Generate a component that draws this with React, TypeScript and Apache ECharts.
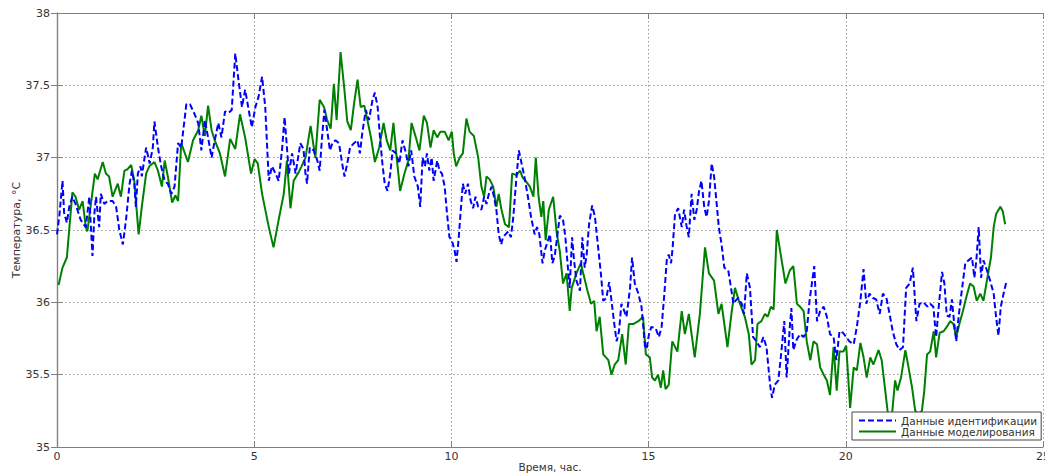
import React, { useEffect, useRef } from "react";
import * as echarts from "echarts";

// Time (hours) / temperature (°C) pairs
const identification: [number, number][] = [
  [0.0, 36.47], [0.06, 36.6], [0.14, 36.84], [0.18, 36.62], [0.25, 36.55], [0.31, 36.66], [0.39, 36.73],
  [0.47, 36.68], [0.6, 36.57], [0.73, 36.52], [0.82, 36.73], [0.86, 36.52], [0.9, 36.32], [0.95, 36.62],
  [0.99, 36.73], [1.03, 36.62], [1.07, 36.52], [1.11, 36.75], [1.2, 36.68], [1.28, 36.7], [1.41, 36.7],
  [1.5, 36.66], [1.58, 36.5], [1.67, 36.4], [1.75, 36.57], [1.84, 36.82], [1.9, 36.91], [1.96, 36.82],
  [2.0, 36.66], [2.05, 36.89], [2.12, 36.94], [2.15, 36.87], [2.22, 37.0], [2.26, 37.07], [2.35, 36.96],
  [2.43, 37.07], [2.47, 37.25], [2.56, 37.07], [2.64, 36.94], [2.73, 36.84], [2.81, 36.82], [2.9, 36.75],
  [2.98, 36.8], [3.07, 37.1], [3.15, 37.07], [3.28, 37.37], [3.37, 37.37], [3.49, 37.3], [3.58, 37.24],
  [3.66, 37.05], [3.75, 37.26], [3.83, 37.14], [3.92, 37.0], [4.0, 37.12], [4.09, 37.24], [4.17, 37.14],
  [4.26, 37.32], [4.35, 37.31], [4.43, 37.33], [4.52, 37.72], [4.6, 37.54], [4.69, 37.35], [4.77, 37.47],
  [4.86, 37.33], [4.94, 37.21], [5.03, 37.35], [5.11, 37.42], [5.2, 37.56], [5.28, 37.35], [5.37, 36.84],
  [5.45, 36.94], [5.54, 36.89], [5.62, 36.84], [5.71, 37.07], [5.77, 37.28], [5.83, 37.07], [5.88, 36.89],
  [5.96, 37.03], [6.05, 36.89], [6.17, 37.1], [6.25, 37.06], [6.3, 36.89], [6.34, 36.82], [6.41, 37.07],
  [6.51, 37.05], [6.6, 36.98], [6.66, 36.91], [6.72, 37.14], [6.78, 37.33], [6.85, 37.19], [6.92, 37.05],
  [6.98, 37.1], [7.06, 37.12], [7.15, 37.1], [7.23, 36.96], [7.29, 36.87], [7.36, 36.96], [7.43, 37.07],
  [7.53, 37.1], [7.62, 37.12], [7.68, 37.03], [7.74, 37.17], [7.83, 37.33], [7.91, 37.26], [8.0, 37.4],
  [8.06, 37.45], [8.13, 37.35], [8.19, 37.14], [8.25, 36.96], [8.31, 36.82], [8.38, 36.77], [8.45, 36.89],
  [8.51, 37.05], [8.59, 37.03], [8.68, 36.96], [8.76, 37.12], [8.85, 37.03], [8.91, 36.94], [8.98, 37.05],
  [9.06, 36.87], [9.15, 36.8], [9.21, 36.66], [9.27, 37.0], [9.33, 36.94], [9.38, 37.03], [9.44, 36.91],
  [9.5, 37.0], [9.55, 36.84], [9.64, 36.98], [9.7, 36.91], [9.76, 36.89], [9.83, 36.8], [9.89, 36.61],
  [9.95, 36.45], [10.01, 36.43], [10.08, 36.36], [10.13, 36.28], [10.18, 36.43], [10.23, 36.61],
  [10.29, 36.82], [10.35, 36.75], [10.42, 36.82], [10.49, 36.7], [10.55, 36.65], [10.61, 36.73],
  [10.68, 36.66], [10.76, 36.64], [10.83, 36.73], [10.89, 36.68], [10.95, 36.75], [11.02, 36.8],
  [11.08, 36.73], [11.14, 36.64], [11.2, 36.47], [11.26, 36.4], [11.31, 36.45], [11.37, 36.47],
  [11.44, 36.49], [11.51, 36.45], [11.57, 36.59], [11.63, 36.8], [11.71, 37.05], [11.78, 36.96],
  [11.85, 36.87], [11.94, 36.73], [12.02, 36.59], [12.11, 36.47], [12.17, 36.52], [12.23, 36.47],
  [12.31, 36.27], [12.37, 36.36], [12.45, 36.43], [12.5, 36.47], [12.56, 36.27], [12.62, 36.32],
  [12.69, 36.47], [12.75, 36.6], [12.83, 36.57], [12.89, 36.45], [12.96, 36.22], [13.0, 36.1],
  [13.06, 36.45], [13.11, 36.29], [13.17, 36.15], [13.26, 36.08], [13.32, 36.45], [13.38, 36.24],
  [13.43, 36.33], [13.49, 36.54], [13.57, 36.67], [13.64, 36.59], [13.72, 36.38], [13.79, 36.2],
  [13.85, 36.01], [13.93, 36.03], [14.0, 36.14], [14.06, 36.01], [14.13, 35.85], [14.19, 35.73],
  [14.25, 35.8], [14.31, 35.99], [14.37, 35.95], [14.44, 35.9], [14.53, 36.1], [14.58, 36.31],
  [14.65, 36.13], [14.74, 36.06], [14.82, 35.97], [14.91, 35.69], [14.95, 35.68], [15.01, 35.78],
  [15.07, 35.83], [15.18, 35.82], [15.26, 35.76], [15.33, 35.83], [15.4, 36.06], [15.46, 36.29],
  [15.51, 36.33], [15.57, 36.27], [15.61, 36.38], [15.67, 36.61], [15.75, 36.65], [15.84, 36.52],
  [15.9, 36.64], [15.96, 36.53], [16.02, 36.45], [16.09, 36.75], [16.16, 36.57], [16.22, 36.64],
  [16.28, 36.77], [16.34, 36.84], [16.41, 36.66], [16.47, 36.59], [16.53, 36.7], [16.6, 36.96],
  [16.66, 36.87], [16.72, 36.7], [16.78, 36.52], [16.85, 36.4], [16.92, 36.24], [17.02, 36.22],
  [17.09, 36.1], [17.15, 35.99], [17.2, 36.01], [17.27, 36.03], [17.36, 35.99], [17.42, 35.92],
  [17.49, 36.2], [17.57, 36.1], [17.65, 35.76], [17.74, 35.73], [17.82, 35.69], [17.91, 35.76],
  [17.99, 35.69], [18.08, 35.43], [18.13, 35.34], [18.2, 35.43], [18.29, 35.46], [18.37, 35.67],
  [18.44, 35.87], [18.5, 35.48], [18.58, 35.83], [18.62, 35.96], [18.67, 35.67], [18.75, 35.74],
  [18.84, 35.78], [18.93, 35.76], [19.01, 35.8], [19.08, 36.01], [19.14, 36.13], [19.2, 36.25],
  [19.27, 35.87], [19.35, 35.94], [19.44, 35.97], [19.52, 35.9], [19.6, 35.78], [19.69, 35.76],
  [19.76, 35.6], [19.84, 35.8], [19.93, 35.79], [20.01, 35.76], [20.09, 35.73], [20.2, 35.71],
  [20.28, 35.83], [20.37, 36.01], [20.45, 36.23], [20.52, 35.99], [20.6, 36.06], [20.69, 36.03],
  [20.77, 36.02], [20.86, 35.92], [20.94, 36.06], [21.03, 36.03], [21.11, 35.92], [21.19, 35.8],
  [21.28, 35.71], [21.36, 35.67], [21.45, 35.69], [21.53, 36.1], [21.62, 36.13], [21.7, 36.24],
  [21.79, 35.87], [21.87, 35.99], [21.97, 36.0], [22.07, 35.97], [22.14, 35.99], [22.22, 35.97],
  [22.29, 35.76], [22.35, 35.95], [22.44, 36.21], [22.5, 36.13], [22.56, 35.91], [22.63, 35.9],
  [22.69, 36.02], [22.75, 35.85], [22.8, 35.73], [22.86, 35.9], [22.94, 36.08], [23.03, 36.27],
  [23.11, 36.29], [23.2, 36.31], [23.26, 36.17], [23.31, 36.29], [23.37, 36.52], [23.43, 36.17],
  [23.49, 36.29], [23.58, 36.22], [23.66, 36.15], [23.75, 36.06], [23.81, 35.9], [23.87, 35.77],
  [23.93, 35.97], [24.0, 36.06], [24.07, 36.14],
];

const modelling: [number, number][] = [
  [0.04, 36.12], [0.14, 36.24], [0.25, 36.31], [0.39, 36.76], [0.47, 36.73], [0.56, 36.64], [0.65, 36.7],
  [0.73, 36.52], [0.77, 36.49], [0.86, 36.68], [0.96, 36.89], [1.03, 36.85], [1.16, 36.97], [1.24, 36.89],
  [1.32, 36.87], [1.41, 36.73], [1.54, 36.82], [1.62, 36.73], [1.71, 36.91], [1.79, 36.92], [1.88, 36.95],
  [1.96, 36.84], [2.07, 36.47], [2.15, 36.66], [2.26, 36.89], [2.34, 36.94], [2.47, 36.97], [2.56, 36.91],
  [2.66, 36.8], [2.73, 36.98], [2.81, 36.87], [2.92, 36.69], [3.0, 36.74], [3.07, 36.7], [3.15, 37.1],
  [3.32, 36.97], [3.45, 37.12], [3.58, 37.19], [3.66, 37.29], [3.75, 37.15], [3.83, 37.36], [3.92, 37.19],
  [4.0, 37.12], [4.13, 37.03], [4.26, 36.87], [4.39, 37.13], [4.52, 37.06], [4.64, 37.3], [4.77, 37.14],
  [4.92, 36.89], [5.01, 36.99], [5.09, 36.96], [5.2, 36.75], [5.37, 36.52], [5.49, 36.38], [5.62, 36.57],
  [5.75, 36.75], [5.83, 36.98], [5.92, 36.65], [6.0, 36.84], [6.13, 36.9], [6.2, 36.94], [6.3, 37.0],
  [6.43, 37.22], [6.55, 37.0], [6.66, 37.4], [6.77, 37.35], [6.85, 37.26], [6.94, 37.2], [7.02, 37.51],
  [7.09, 37.26], [7.19, 37.73], [7.28, 37.49], [7.36, 37.25], [7.45, 37.19], [7.53, 37.37], [7.62, 37.54],
  [7.7, 37.35], [7.79, 37.36], [7.87, 37.26], [7.96, 37.14], [8.06, 36.97], [8.17, 37.07], [8.28, 37.24],
  [8.36, 37.12], [8.45, 37.05], [8.53, 37.24], [8.62, 36.98], [8.7, 36.77], [8.81, 36.89], [8.91, 36.98],
  [8.99, 37.24], [9.1, 37.14], [9.19, 37.05], [9.3, 37.29], [9.38, 37.24], [9.47, 37.07], [9.55, 37.19],
  [9.64, 37.14], [9.72, 37.18], [9.83, 37.18], [9.93, 37.12], [10.01, 37.18], [10.06, 37.03],
  [10.12, 36.94], [10.21, 37.0], [10.29, 37.03], [10.38, 37.27], [10.46, 37.18], [10.57, 37.15],
  [10.68, 37.0], [10.76, 36.8], [10.83, 36.73], [10.89, 36.87], [10.97, 36.85], [11.06, 36.8],
  [11.14, 36.66], [11.2, 36.75], [11.27, 36.64], [11.36, 36.54], [11.46, 36.52], [11.54, 36.89],
  [11.65, 36.88], [11.74, 36.91], [11.81, 36.86], [11.88, 36.84], [11.99, 36.8], [12.08, 36.73],
  [12.14, 37.0], [12.21, 36.73], [12.28, 36.59], [12.33, 36.7], [12.39, 36.43], [12.47, 36.64],
  [12.58, 36.73], [12.67, 36.48], [12.75, 36.35], [12.83, 36.13], [12.92, 36.2], [13.0, 35.94],
  [13.05, 36.1], [13.17, 36.2], [13.28, 36.27], [13.37, 36.17], [13.45, 36.08], [13.54, 35.99],
  [13.62, 36.01], [13.68, 35.8], [13.76, 35.9], [13.85, 35.64], [13.98, 35.6], [14.06, 35.5],
  [14.14, 35.57], [14.23, 35.6], [14.33, 35.78], [14.42, 35.57], [14.5, 35.85], [14.61, 35.85],
  [14.74, 35.87], [14.86, 35.9], [14.93, 35.64], [15.03, 35.62], [15.09, 35.48], [15.16, 35.46],
  [15.24, 35.5], [15.31, 35.41], [15.37, 35.53], [15.43, 35.4], [15.51, 35.43], [15.6, 35.73],
  [15.73, 35.66], [15.84, 35.94], [15.92, 35.78], [16.02, 35.92], [16.17, 35.62], [16.3, 35.92],
  [16.43, 36.38], [16.53, 36.2], [16.66, 36.15], [16.77, 35.92], [16.85, 35.99], [17.0, 35.69],
  [17.1, 35.92], [17.19, 36.1], [17.29, 36.01], [17.44, 35.9], [17.54, 35.78], [17.61, 35.57],
  [17.7, 35.6], [17.76, 35.85], [17.86, 35.87], [17.95, 35.92], [18.02, 35.9], [18.1, 35.97],
  [18.17, 35.95], [18.25, 36.5], [18.35, 36.33], [18.47, 36.13], [18.58, 36.22], [18.67, 36.25],
  [18.76, 35.99], [18.84, 35.97], [18.93, 35.94], [19.01, 35.73], [19.1, 35.6], [19.18, 35.73],
  [19.27, 35.71], [19.35, 35.55], [19.44, 35.5], [19.52, 35.46], [19.6, 35.36], [19.69, 35.69],
  [19.77, 35.39], [19.84, 35.66], [19.94, 35.66], [20.01, 35.7], [20.11, 35.27], [20.2, 35.55],
  [20.28, 35.53], [20.37, 35.72], [20.45, 35.62], [20.53, 35.48], [20.62, 35.62], [20.7, 35.57],
  [20.83, 35.67], [20.91, 35.6], [21.0, 35.39], [21.08, 35.2], [21.17, 35.22], [21.25, 35.46],
  [21.31, 35.39], [21.4, 35.48], [21.51, 35.67], [21.59, 35.55], [21.68, 35.41], [21.76, 35.25],
  [21.84, 35.23], [21.93, 35.25], [21.99, 35.39], [22.06, 35.64], [22.14, 35.66], [22.23, 35.8],
  [22.29, 35.62], [22.38, 35.79], [22.48, 35.8], [22.56, 35.83], [22.65, 35.87], [22.73, 35.85],
  [22.8, 35.76], [22.88, 35.85], [22.97, 35.94], [23.05, 36.03], [23.15, 36.13], [23.24, 36.11],
  [23.32, 36.01], [23.41, 36.06], [23.49, 36.01], [23.59, 36.17], [23.68, 36.31], [23.75, 36.52],
  [23.81, 36.61], [23.92, 36.66], [23.98, 36.63], [24.04, 36.54],
];

const seriesNames = ["Данные идентификации", "Данные моделирования"];
const xAxisName = "Время, час.";
const yAxisName = "Температура, °C";
const xRange = { min: 0, max: 25, interval: 5 };
const yRange = { min: 35, max: 38, interval: 0.5 };

const FONT = "DejaVu Sans";
const TEXT = "#333";
const AXIS = "#808080";

export default function App() {
  const ref = useRef<HTMLDivElement>(null);
  useEffect(() => {
    if (!ref.current) return;
    const chart = echarts.init(ref.current, undefined, { renderer: "svg" });
    const hiddenAxis = {
      axisLabel: { show: false },
      splitLine: { show: false },
      axisLine: { show: true, lineStyle: { color: AXIS, width: 1.2 } },
      axisTick: { show: true, inside: true, length: 6, lineStyle: { color: AXIS } },
    };
    chart.setOption({
      animation: false,
      backgroundColor: "#ffffff",
      grid: { left: 57, right: 2, top: 13, bottom: 28, containLabel: false, outerBoundsMode: "none" },
      legend: {
        orient: "vertical",
        left: 852,
        top: 412,
        itemWidth: 37,
        itemHeight: 12,
        itemGap: 0,
        padding: [3, 4, 3, 6],
        backgroundColor: "#ffffff",
        borderColor: "#444",
        borderWidth: 1,
        itemStyle: { opacity: 0 },
        textStyle: { fontFamily: FONT, fontSize: 10.5, color: TEXT },
        data: seriesNames,
      },
      xAxis: [
        {
          type: "value",
          ...xRange,
          name: xAxisName,
          nameLocation: "middle",
          nameGap: 14,
          nameMoveOverlap: false,
          nameTextStyle: { fontFamily: FONT, fontSize: 10.5, color: TEXT, verticalAlign: "top" },
          axisLine: { show: true, lineStyle: { color: AXIS, width: 1.2 } },
          axisTick: { show: true, inside: true, length: 6, lineStyle: { color: AXIS } },
          axisLabel: { margin: 4, fontFamily: FONT, fontSize: 11, color: TEXT },
          splitLine: { show: true, lineStyle: { color: "#999", type: [1.5, 2.5], width: 1 } },
        },
        { type: "value", position: "top", ...xRange, ...hiddenAxis },
      ],
      yAxis: [
        {
          type: "value",
          ...yRange,
          name: yAxisName,
          nameLocation: "middle",
          nameGap: 35,
          nameMoveOverlap: false,
          nameTextStyle: { fontFamily: FONT, fontSize: 11, color: TEXT },
          axisLine: { show: true, lineStyle: { color: AXIS, width: 1.2 } },
          axisTick: { show: true, inside: true, length: 6, lineStyle: { color: AXIS } },
          axisLabel: { margin: 7, fontFamily: FONT, fontSize: 11, color: TEXT },
          splitLine: { show: true, lineStyle: { color: "#999", type: [1.5, 2.5], width: 1 } },
        },
        { type: "value", position: "right", ...yRange, ...hiddenAxis },
      ],
      series: [
        {
          name: seriesNames[0],
          type: "line",
          data: identification,
          symbol: "none",
          showSymbol: false,
          z: 3,
          lineStyle: { color: "#0000ff", width: 2, type: [6, 3] },
          itemStyle: { color: "#0000ff" },
        },
        {
          name: seriesNames[1],
          type: "line",
          data: modelling,
          symbol: "none",
          showSymbol: false,
          z: 2,
          lineStyle: { color: "#008000", width: 2 },
          itemStyle: { color: "#008000" },
        },
      ],
    });
    return () => chart.dispose();
  }, []);
  return (
    <div
      ref={ref}
      style={{ position: "absolute", left: 0, top: 0, width: 1045, height: 475, background: "#fff" }}
    />
  );
}
